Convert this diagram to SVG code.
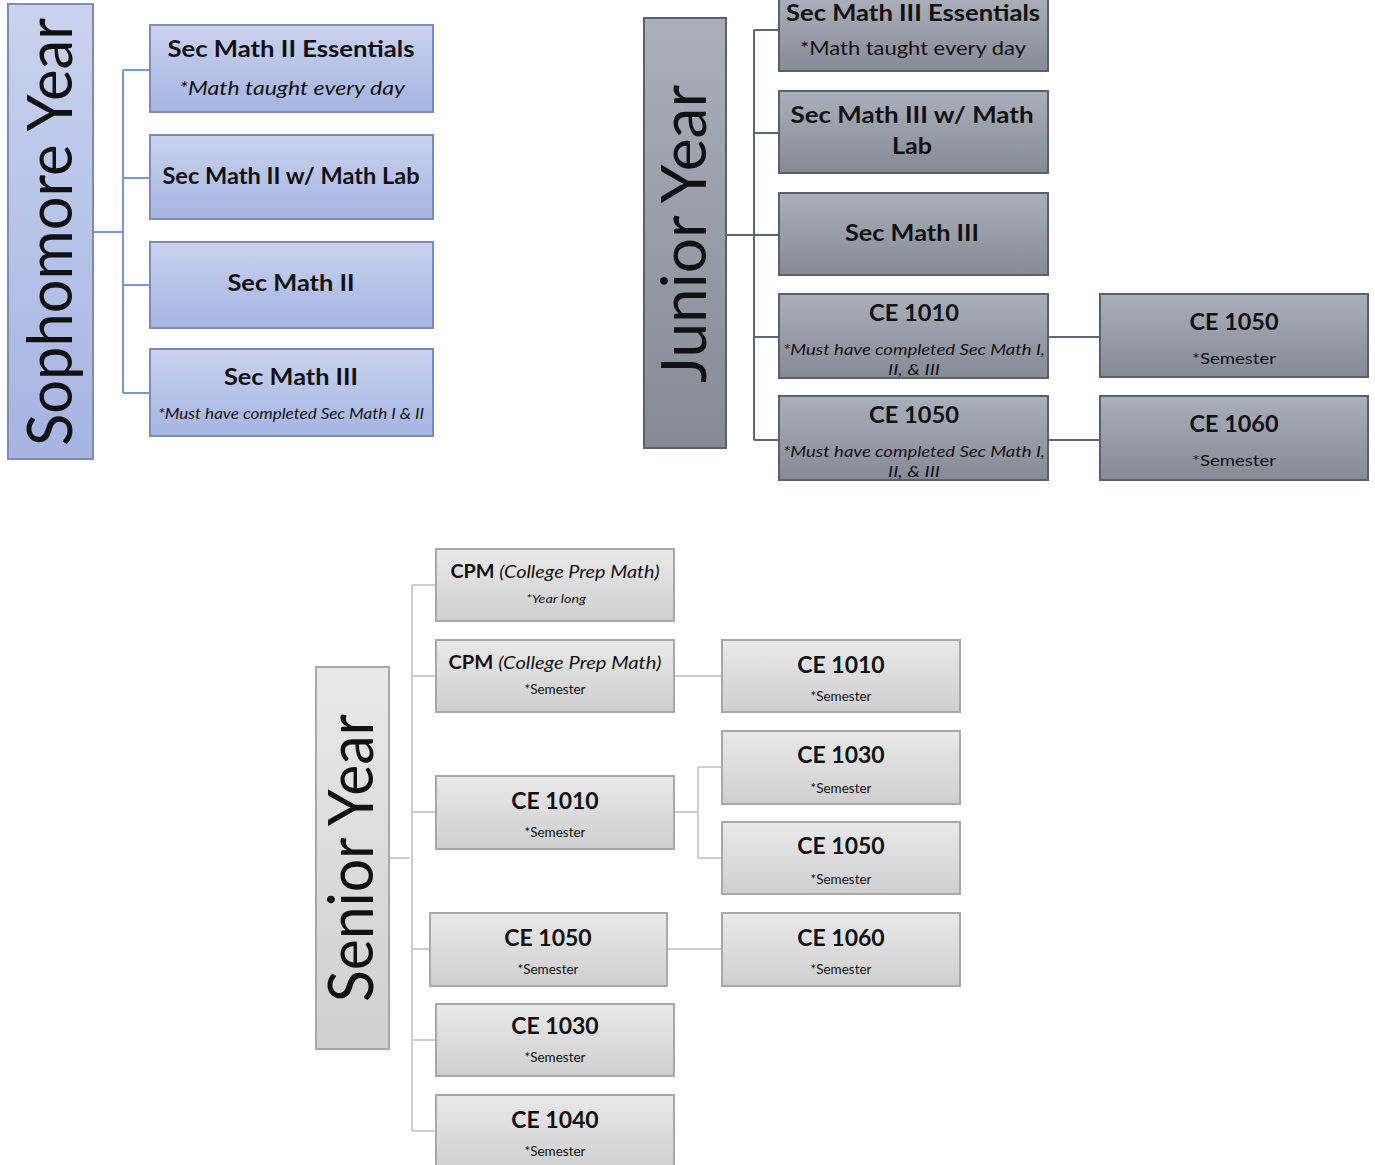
<svg xmlns="http://www.w3.org/2000/svg" width="1375" height="1165" viewBox="0 0 1375 1165">
<defs>
<linearGradient id="gB" x1="0" y1="0" x2="0" y2="1"><stop offset="0" stop-color="#c9d3ef"/><stop offset="1" stop-color="#a5b4e1"/></linearGradient>
<linearGradient id="gD" x1="0" y1="0" x2="0" y2="1"><stop offset="0" stop-color="#aab0ba"/><stop offset="1" stop-color="#858a95"/></linearGradient>
<linearGradient id="gL" x1="0" y1="0" x2="0" y2="1"><stop offset="0" stop-color="#e9e9e9"/><stop offset="1" stop-color="#cfcfcf"/></linearGradient>
</defs>
<style>
.b{fill:url(#gB);stroke:#7d8cb5;stroke-width:2}
.d{fill:url(#gD);stroke:#5a606c;stroke-width:2}
.l{fill:url(#gL);stroke:#a8a8a8;stroke-width:2}
text{font-family:Lato,"Open Sans",sans-serif;fill:#111;text-anchor:middle}
.t{font-weight:bold;font-size:23px}
.hd{font-size:62px;fill:#111}
.it{font-style:italic}
.cb{fill:none;stroke:#7a96d4;stroke-width:2}
.cd{fill:none;stroke:#5d6877;stroke-width:2}
.cl{fill:none;stroke:#cdcdcd;stroke-width:2}
</style>
<g id="connectors">
<path class="cb" d="M93 232H123M123 70V393M123 70H150M123 178H150M123 285H150M123 393H150"/>
<path class="cd" d="M726 235H754M754 30V440M754 30H779M754 133H779M754 235H779M754 337H779M754 440H779M1048 337H1100M1048 440H1100"/>
<path class="cl" d="M389 858H410M412 585V1131M412 585H436M412 676H436M412 812H436M412 949H430M412 1040H436M412 1131H436M674 676H722M674 812H698M698 767V858M698 767H722M698 858H722M667 949H722"/>
</g>
<g id="sophomore">
<rect class="b" x="8" y="4" width="85" height="455"/>
<text class="hd" transform="translate(72,232) rotate(-90)" textLength="428" lengthAdjust="spacingAndGlyphs">Sophomore Year</text>
</g>
<g id="s1"><rect class="b" x="150" y="25" width="283" height="87"/>
<text class="t" x="291" y="57" textLength="247" lengthAdjust="spacingAndGlyphs">Sec Math II Essentials</text>
<text class="it" x="292" y="95" font-size="20" textLength="226" lengthAdjust="spacingAndGlyphs">*Math taught every day</text></g>
<g id="s2"><rect class="b" x="150" y="135" width="283" height="84"/>
<text class="t" x="291" y="184" textLength="257" lengthAdjust="spacingAndGlyphs">Sec Math II w/ Math Lab</text></g>
<g id="s3"><rect class="b" x="150" y="242" width="283" height="86"/>
<text class="t" x="291" y="291" textLength="127" lengthAdjust="spacingAndGlyphs">Sec Math II</text></g>
<g id="s4"><rect class="b" x="150" y="349" width="283" height="87"/>
<text class="t" x="291" y="385" textLength="134" lengthAdjust="spacingAndGlyphs">Sec Math III</text>
<text class="it" x="291" y="419" font-size="15" textLength="266" lengthAdjust="spacingAndGlyphs">*Must have completed Sec Math I &amp; II</text></g>

<g id="junior">
<rect class="d" x="644" y="18" width="82" height="430"/>
<text class="hd" transform="translate(706,234) rotate(-90)" textLength="298" lengthAdjust="spacingAndGlyphs">Junior Year</text>
</g>
<g id="j1"><rect class="d" x="779" y="-3" width="269" height="74"/>
<text class="t" x="913" y="21" font-size="22" textLength="254" lengthAdjust="spacingAndGlyphs">Sec Math III Essentials</text>
<text x="913" y="55" font-size="20" textLength="226" lengthAdjust="spacingAndGlyphs">*Math taught every day</text></g>
<g id="j2"><rect class="d" x="779" y="91" width="269" height="82"/>
<text class="t" x="912" y="123" textLength="243" lengthAdjust="spacingAndGlyphs">Sec Math III w/ Math</text>
<text class="t" x="912" y="154" textLength="40" lengthAdjust="spacingAndGlyphs">Lab</text></g>
<g id="j3"><rect class="d" x="779" y="193" width="269" height="82"/>
<text class="t" x="912" y="241" textLength="134" lengthAdjust="spacingAndGlyphs">Sec Math III</text></g>
<g id="j4"><rect class="d" x="779" y="294" width="269" height="84"/>
<text class="t" x="914" y="321" textLength="90" lengthAdjust="spacingAndGlyphs">CE 1010</text>
<text class="it" x="914" y="355" font-size="16" textLength="262" lengthAdjust="spacingAndGlyphs">*Must have completed Sec Math I,</text>
<text class="it" x="914" y="375" font-size="16" textLength="52" lengthAdjust="spacingAndGlyphs">II, &amp; III</text></g>
<g id="j5"><rect class="d" x="779" y="396" width="269" height="84"/>
<text class="t" x="914" y="423" textLength="90" lengthAdjust="spacingAndGlyphs">CE 1050</text>
<text class="it" x="914" y="457" font-size="16" textLength="262" lengthAdjust="spacingAndGlyphs">*Must have completed Sec Math I,</text>
<text class="it" x="914" y="477" font-size="16" textLength="52" lengthAdjust="spacingAndGlyphs">II, &amp; III</text></g>
<g id="j6"><rect class="d" x="1100" y="294" width="268" height="83"/>
<text class="t" x="1234" y="330" textLength="89" lengthAdjust="spacingAndGlyphs">CE 1050</text>
<text x="1234" y="364" font-size="16" textLength="84" lengthAdjust="spacingAndGlyphs">*Semester</text></g>
<g id="j7"><rect class="d" x="1100" y="396" width="268" height="84"/>
<text class="t" x="1234" y="432" textLength="89" lengthAdjust="spacingAndGlyphs">CE 1060</text>
<text x="1234" y="466" font-size="16" textLength="84" lengthAdjust="spacingAndGlyphs">*Semester</text></g>

<g id="senior">
<rect class="l" x="316" y="667" width="73" height="382"/>
<text class="hd" transform="translate(373,858) rotate(-90)" textLength="288" lengthAdjust="spacingAndGlyphs" font-size="58">Senior Year</text>
</g>
<g id="n1"><rect class="l" x="436" y="549" width="238" height="72"/>
<text x="555" y="578" font-size="18" textLength="209" lengthAdjust="spacingAndGlyphs"><tspan font-weight="bold">CPM </tspan><tspan class="it">(College Prep Math)</tspan></text>
<text class="it" x="556" y="603" font-size="12" textLength="60" lengthAdjust="spacingAndGlyphs">*Year long</text></g>
<g id="n2"><rect class="l" x="436" y="640" width="238" height="72"/>
<text x="555" y="669" font-size="18" textLength="213" lengthAdjust="spacingAndGlyphs"><tspan font-weight="bold">CPM  </tspan><tspan class="it">(College Prep Math)</tspan></text>
<text x="555" y="694" font-size="13" textLength="61" lengthAdjust="spacingAndGlyphs">*Semester</text></g>
<g id="n3"><rect class="l" x="436" y="776" width="238" height="73"/>
<text class="t" x="555" y="809" font-size="21">CE 1010</text>
<text x="555" y="837" font-size="13" textLength="61" lengthAdjust="spacingAndGlyphs">*Semester</text></g>
<g id="n4"><rect class="l" x="430" y="913" width="237" height="73"/>
<text class="t" x="548" y="946" font-size="21">CE 1050</text>
<text x="548" y="974" font-size="13" textLength="61" lengthAdjust="spacingAndGlyphs">*Semester</text></g>
<g id="n5"><rect class="l" x="436" y="1004" width="238" height="72"/>
<text class="t" x="555" y="1034" font-size="21">CE 1030</text>
<text x="555" y="1062" font-size="13" textLength="61" lengthAdjust="spacingAndGlyphs">*Semester</text></g>
<g id="n6"><rect class="l" x="436" y="1095" width="238" height="75"/>
<text class="t" x="555" y="1128" font-size="21">CE 1040</text>
<text x="555" y="1156" font-size="13" textLength="61" lengthAdjust="spacingAndGlyphs">*Semester</text></g>
<g id="n7"><rect class="l" x="722" y="640" width="238" height="72"/>
<text class="t" x="841" y="673" font-size="21">CE 1010</text>
<text x="841" y="701" font-size="13" textLength="61" lengthAdjust="spacingAndGlyphs">*Semester</text></g>
<g id="n8"><rect class="l" x="722" y="731" width="238" height="73"/>
<text class="t" x="841" y="763" font-size="21">CE 1030</text>
<text x="841" y="793" font-size="13" textLength="61" lengthAdjust="spacingAndGlyphs">*Semester</text></g>
<g id="n9"><rect class="l" x="722" y="822" width="238" height="72"/>
<text class="t" x="841" y="854" font-size="21">CE 1050</text>
<text x="841" y="884" font-size="13" textLength="61" lengthAdjust="spacingAndGlyphs">*Semester</text></g>
<g id="n10"><rect class="l" x="722" y="913" width="238" height="73"/>
<text class="t" x="841" y="946" font-size="21">CE 1060</text>
<text x="841" y="974" font-size="13" textLength="61" lengthAdjust="spacingAndGlyphs">*Semester</text></g>
</svg>
